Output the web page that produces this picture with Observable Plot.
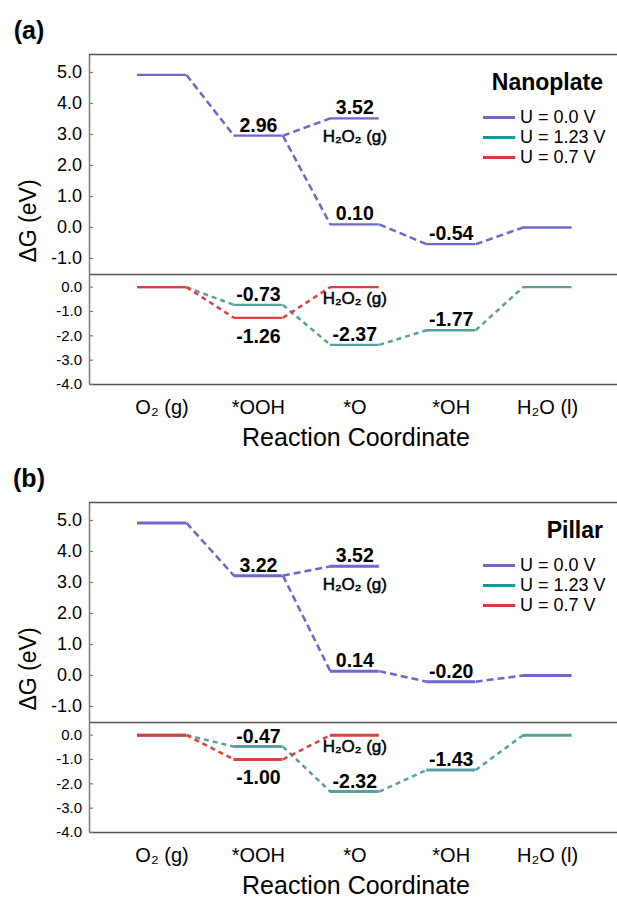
<!DOCTYPE html>
<html><head><meta charset="utf-8">
<script src="https://cdn.jsdelivr.net/npm/d3@7"></script>
<script src="https://cdn.jsdelivr.net/npm/@observablehq/plot@0.6"></script>
<style>
body{margin:0;background:#fff;}
#fig{position:relative;width:617px;height:900px;background:#fff;font-family:"Liberation Sans",Arial,sans-serif;color:#000;overflow:hidden}
.abs{position:absolute;white-space:nowrap;line-height:1}
.wrap{position:absolute;left:0}
.wrap svg{display:block}
</style></head><body><div id="fig"></div>
<script>
// ---------- data ----------
const categories = ["O₂ (g)", "*OOH", "*O", "*OH", "H₂O (l)"];
const upperTicks = [5, 4, 3, 2, 1, 0, -1];
const lowerTicks = [0, -1, -2, -3, -4];
const legendLabels = ["U = 0.0 V", "U = 1.23 V", "U = 0.7 V"];
const panelTitles = ["Nanoplate", "Pillar"];
const panelTags = ["(a)", "(b)"];
const h2o2Label = "H₂O₂ (g)";
const xTitle = "Reaction Coordinate";
const yTitle = "ΔG (eV)";

// Nanoplate
const nanoU0 = [4.92, 2.96, 0.10, -0.54, 0.00];
const nanoU0H2O2 = 3.52;
const nanoU123 = [0.00, -0.73, -2.37, -1.77, 0.00];
const nanoU07 = [0.00, -1.26];
const nanoU07H2O2 = 0.00;
// Pillar
const pillarU0 = [4.92, 3.22, 0.14, -0.20, 0.00];
const pillarU0H2O2 = 3.52;
const pillarU123 = [0.00, -0.47, -2.32, -1.43, 0.00];
const pillarU07 = [0.00, -1.00];
const pillarU07H2O2 = 0.00;

// ---------- style ----------
const FONT = '"Liberation Sans", Arial, sans-serif';
const PURPLE = "#6c67c8", TEAL = "#5a9e9e", RED = "#d9403f";
const LEG = [PURPLE, "#169a98", "#d63b3b"];
const XD = [-0.752, 4.725];
const HW = 0.254;
const FRAME_W = 617 - 89;

const fig = document.getElementById("fig");
function addText(txt, x, y, css, tf) {
  const d = document.createElement("div");
  d.className = "abs"; d.textContent = txt;
  d.style.left = x + "px"; d.style.top = y + "px";
  d.style.transform = tf || "translate(-50%,-50%)";
  Object.assign(d.style, css || {});
  fig.appendChild(d); return d;
}
const levelsOf = (vals, idx) => vals.map((v, k) => ({i: idx ? idx[k] : k, v}));
const pairs = (lv) => lv.slice(1).map((b, k) => ({a: lv[k], b}));

function linkMark(links, stroke, sw, dash) {
  return Plot.link(links, {x1: d => d.a.i + HW, y1: d => d.a.v, x2: d => d.b.i - HW, y2: d => d.b.v,
    stroke, strokeWidth: sw, strokeDasharray: dash});
}
function levelMark(lv, stroke, sw) {
  return Plot.ruleY(lv, {y: "v", x1: d => d.i - HW, x2: d => d.i + HW, stroke, strokeWidth: sw});
}
function valueLabels(lv, below) {
  return Plot.text(lv, {x: "i", y: "v", text: d => d.v.toFixed(2), lineAnchor: below ? "top" : "bottom",
    dy: below ? 11 : -4, fontSize: 19.5, fontWeight: "bold", fill: "#000"});
}

function panel(o, p) {
  const lw = p.lw;
  // upper: U = 0 V
  const uTop = 5.58, uH = 220, uBot = uTop - uH / 31;
  const main = levelsOf(p.u0);
  const h2o2 = {i: 2, v: p.u0H2O2};
  const upLinks = pairs(main).concat([{a: main[1], b: h2o2}]);
  const up = Plot.plot({
    width: 617, height: uH, marginLeft: 89, marginRight: 0, marginTop: 0, marginBottom: 0,
    style: {background: "transparent", overflow: "visible", fontFamily: FONT},
    x: {domain: XD, axis: null},
    y: {domain: [uBot, uTop], axis: null},
    marks: [
      Plot.ruleX([XD[0]], {stroke: "#7a7a7a", strokeWidth: 1.5}),
      Plot.ruleY([uTop, uBot], {stroke: "#555", strokeWidth: 1.5}),
      Plot.tickY(upperTicks, {stroke: "#7a7a7a", strokeWidth: 1.2, insetRight: FRAME_W - 4}),
      Plot.axisY(upperTicks, {tickSize: 0, tickPadding: 7.5, tickFormat: d => d.toFixed(1), fontSize: 18, label: null}),
      linkMark(upLinks, PURPLE, 2.5, "7,4"),
      levelMark(main.concat([h2o2]), PURPLE, lw),
      valueLabels([main[1], h2o2, main[2], main[3]], false),
      Plot.text([h2o2], {x: "i", y: "v", text: () => h2o2Label, lineAnchor: "top", dy: 12, fontSize: 17,
        fill: "#000", stroke: "#000", strokeWidth: 0.5})
    ]
  });
  const w1 = document.createElement("div"); w1.className = "wrap"; w1.style.top = (54 + o) + "px";
  w1.appendChild(up); fig.appendChild(w1);

  // lower: U = 1.23 V and 0.7 V
  const lTop = 0.52, lBot = -4, lH = 110;
  const teal = levelsOf(p.u123);
  const red = levelsOf(p.u07.concat([p.u07H2O2]), [0, 1, 2]);
  const low = Plot.plot({
    width: 617, height: lH + 60, marginLeft: 89, marginRight: 0, marginTop: 0, marginBottom: 60,
    style: {background: "transparent", overflow: "visible", fontFamily: FONT},
    x: {domain: XD, axis: null},
    y: {domain: [lBot, lTop], axis: null},
    marks: [
      Plot.ruleX([XD[0]], {stroke: "#7a7a7a", strokeWidth: 1.5}),
      Plot.ruleY([lBot], {stroke: "#555", strokeWidth: 1.5}),
      Plot.tickY(lowerTicks, {stroke: "#7a7a7a", strokeWidth: 1.2, insetRight: FRAME_W - 4}),
      Plot.axisY(lowerTicks, {tickSize: 0, tickPadding: 7.5, tickFormat: d => d.toFixed(1), fontSize: 15, label: null}),
      Plot.axisX([0, 1, 2, 3, 4], {tickSize: 0, tickPadding: 15.5, tickFormat: i => categories[i], fontSize: 20, label: null}),
      linkMark(pairs(teal), TEAL, 2.5, "5,4"),
      levelMark(teal, TEAL, lw),
      linkMark(pairs(red), RED, 2.5, "5,4"),
      levelMark(red, RED, lw),
      valueLabels([teal[1], teal[2], teal[3]], false),
      valueLabels([red[1]], true),
      Plot.text([red[2]], {x: "i", y: "v", text: () => h2o2Label, lineAnchor: "top", dy: 5, fontSize: 17,
        fill: "#000", stroke: "#000", strokeWidth: 0.5})
    ]
  });
  const w2 = document.createElement("div"); w2.className = "wrap"; w2.style.top = (274 + o) + "px";
  w2.appendChild(low); fig.appendChild(w2);

  // texts
  addText(p.tag, 29, 30 + o, {fontSize: "25px", fontWeight: "bold"});
  addText(yTitle, 28, 221 + o, {fontSize: "23px"}, "translate(-50%,-50%) rotate(-90deg)");
  addText(xTitle, 356, 437 + o, {fontSize: "25px"});
  addText(p.title, 603, 81.5 + o, {fontSize: "23px", fontWeight: "bold"}, "translate(-100%,-50%)");
  legendLabels.forEach((lab, k) => {
    const row = document.createElement("div");
    row.className = "abs";
    row.style.left = "483px"; row.style.top = (117 + 20 * k + o) + "px";
    row.style.transform = "translate(0,-50%)";
    row.style.display = "flex"; row.style.alignItems = "center";
    const sw = document.createElement("div");
    sw.style.width = "32px"; sw.style.height = "3px"; sw.style.background = LEG[k]; sw.style.marginRight = "5px";
    const t = document.createElement("span"); t.textContent = lab; t.style.fontSize = "18px";
    row.appendChild(sw); row.appendChild(t); fig.appendChild(row);
  });
}

panel(0, {tag: panelTags[0], title: panelTitles[0], u0: nanoU0, u0H2O2: nanoU0H2O2,
  u123: nanoU123, u07: nanoU07, u07H2O2: nanoU07H2O2, lw: 2.3});
panel(448, {tag: panelTags[1], title: panelTitles[1], u0: pillarU0, u0H2O2: pillarU0H2O2,
  u123: pillarU123, u07: pillarU07, u07H2O2: pillarU07H2O2, lw: 3});
</script></body></html>
